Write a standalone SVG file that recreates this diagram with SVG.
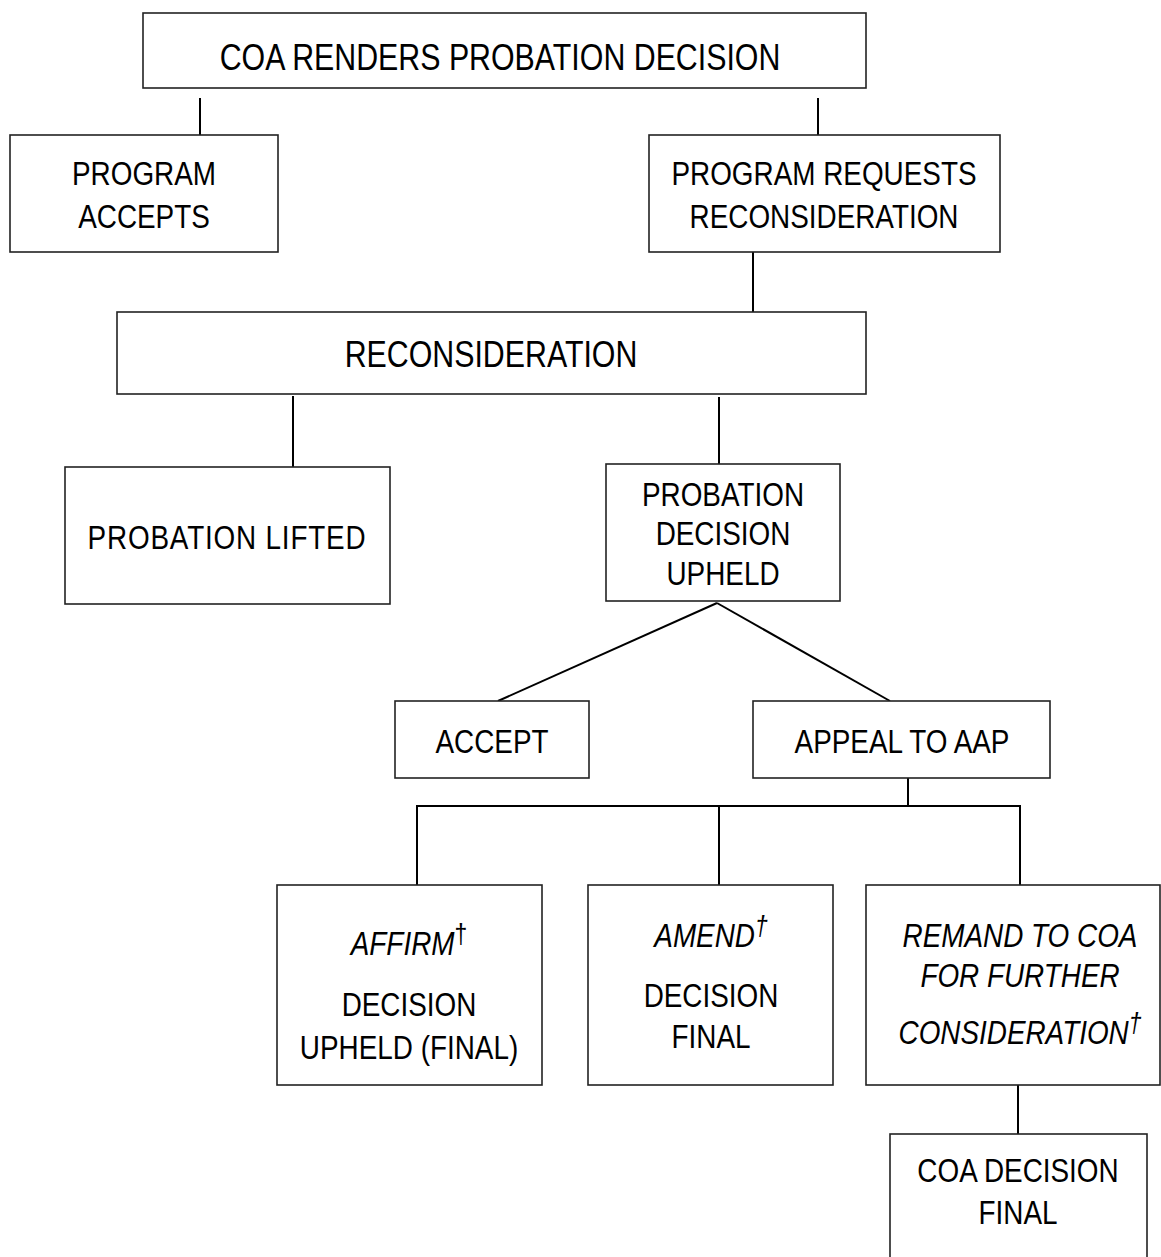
<svg xmlns="http://www.w3.org/2000/svg" width="1161" height="1257" viewBox="0 0 1161 1257">
<style>
.box{fill:#fff;stroke:#222;stroke-width:1.6}
.ln{fill:none;stroke:#000;stroke-width:2}
text{font-family:"Liberation Sans",Arial,sans-serif;font-size:34px;fill:#000;text-anchor:middle}
.big{font-size:37px}
.it{font-style:italic}
.dg{font-size:28px}
</style>
<rect width="1161" height="1257" fill="#fff"/>
<g id="connectors">
<line class="ln" x1="200" y1="98" x2="200" y2="135"/>
<line class="ln" x1="818" y1="98" x2="818" y2="135"/>
<line class="ln" x1="753" y1="252" x2="753" y2="312"/>
<line class="ln" x1="293" y1="396" x2="293" y2="467"/>
<line class="ln" x1="719" y1="397" x2="719" y2="464"/>
<line class="ln" x1="717" y1="603" x2="498" y2="701"/>
<line class="ln" x1="717" y1="603" x2="890" y2="701"/>
<line class="ln" x1="908" y1="778" x2="908" y2="806"/>
<polyline class="ln" points="417,885 417,806 1020,806 1020,885"/>
<line class="ln" x1="719" y1="806" x2="719" y2="885"/>
<line class="ln" x1="1018" y1="1085" x2="1018" y2="1134"/>
</g>
<g id="n-coa-renders">
<rect class="box" x="143" y="13" width="723" height="75"/>
<text class="big" transform="translate(500 70) scale(.82 1)">COA RENDERS PROBATION DECISION</text>
</g>
<g id="n-program-accepts">
<rect class="box" x="10" y="135" width="268" height="117"/>
<text transform="translate(144 185) scale(.82 1)">PROGRAM</text>
<text transform="translate(144 228) scale(.82 1)">ACCEPTS</text>
</g>
<g id="n-program-requests">
<rect class="box" x="649" y="135" width="351" height="117"/>
<text transform="translate(824 185) scale(.82 1)">PROGRAM REQUESTS</text>
<text transform="translate(824 228) scale(.82 1)">RECONSIDERATION</text>
</g>
<g id="n-reconsideration">
<rect class="box" x="117" y="312" width="749" height="82"/>
<text class="big" transform="translate(491 367) scale(.82 1)">RECONSIDERATION</text>
</g>
<g id="n-probation-lifted">
<rect class="box" x="65" y="467" width="325" height="137"/>
<text transform="translate(227 549) scale(.82 1)" letter-spacing="1">PROBATION LIFTED</text>
</g>
<g id="n-decision-upheld">
<rect class="box" x="606" y="464" width="234" height="137"/>
<text transform="translate(723 506) scale(.82 1)">PROBATION</text>
<text transform="translate(723 545) scale(.82 1)">DECISION</text>
<text transform="translate(723 585) scale(.82 1)">UPHELD</text>
</g>
<g id="n-accept">
<rect class="box" x="395" y="701" width="194" height="77"/>
<text transform="translate(492 753) scale(.82 1)">ACCEPT</text>
</g>
<g id="n-appeal">
<rect class="box" x="753" y="701" width="297" height="77"/>
<text transform="translate(902 753) scale(.82 1)">APPEAL TO AAP</text>
</g>
<g id="n-affirm">
<rect class="box" x="277" y="885" width="265" height="200"/>
<text transform="translate(409 955) scale(.82 1)"><tspan class="it">AFFIRM</tspan><tspan class="dg" dy="-12">†</tspan></text>
<text transform="translate(409 1016) scale(.82 1)">DECISION</text>
<text transform="translate(409 1059) scale(.82 1)">UPHELD (FINAL)</text>
</g>
<g id="n-amend">
<rect class="box" x="588" y="885" width="245" height="200"/>
<text transform="translate(711 947) scale(.82 1)"><tspan class="it">AMEND</tspan><tspan class="it dg" dy="-12">†</tspan></text>
<text transform="translate(711 1007) scale(.82 1)">DECISION</text>
<text transform="translate(711 1048) scale(.82 1)">FINAL</text>
</g>
<g id="n-remand">
<rect class="box" x="866" y="885" width="294" height="200"/>
<text class="it" transform="translate(1020 947) scale(.82 1)">REMAND TO COA</text>
<text class="it" transform="translate(1020 987) scale(.82 1)">FOR FURTHER</text>
<text class="it" transform="translate(1020 1044) scale(.82 1)">CONSIDERATION<tspan class="dg" dy="-12">†</tspan></text>
</g>
<g id="n-coa-final">
<rect class="box" x="890" y="1134" width="257" height="150"/>
<text transform="translate(1018 1182) scale(.82 1)">COA DECISION</text>
<text transform="translate(1018 1224) scale(.82 1)">FINAL</text>
</g>
</svg>
